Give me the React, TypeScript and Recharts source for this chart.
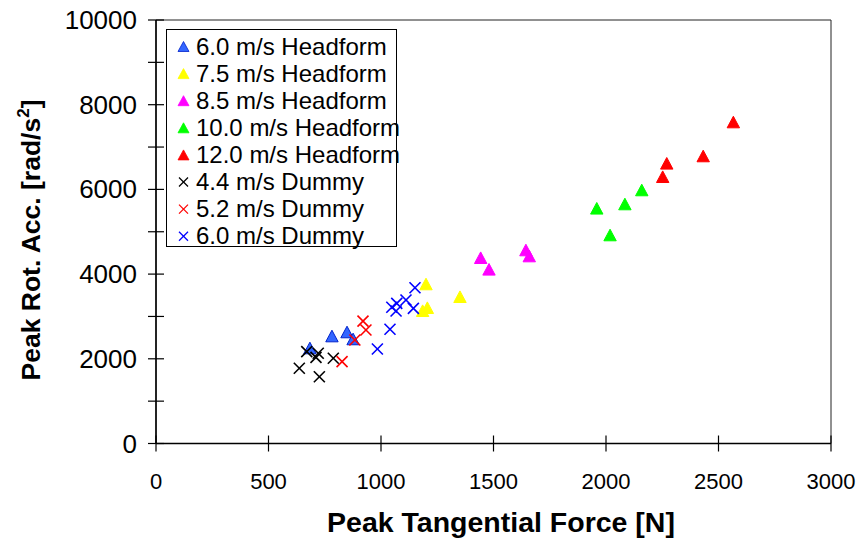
import React from "react";
import { ScatterChart, Scatter, XAxis, YAxis, Legend, ReferenceArea } from "recharts";

const xTicks = [0, 500, 1000, 1500, 2000, 2500, 3000];
const yTicks = [0, 1000, 2000, 3000, 4000, 5000, 6000, 7000, 8000, 9000, 10000];
const yLabelTicks = [0, 2000, 4000, 6000, 8000, 10000];

const headform60 = [
  { x: 684, y: 2255 },
  { x: 782, y: 2538 },
  { x: 849, y: 2633 },
  { x: 876, y: 2468 },
];
const headform75 = [
  { x: 1200, y: 3766 },
  { x: 1351, y: 3466 },
  { x: 1185, y: 3136 },
  { x: 1206, y: 3207 },
];
const headform85 = [
  { x: 1443, y: 4387 },
  { x: 1480, y: 4113 },
  { x: 1644, y: 4569 },
  { x: 1659, y: 4427 },
];
const headform100 = [
  { x: 1959, y: 5554 },
  { x: 2018, y: 4923 },
  { x: 2084, y: 5655 },
  { x: 2159, y: 5986 },
];
const headform120 = [
  { x: 2252, y: 6300 },
  { x: 2270, y: 6616 },
  { x: 2432, y: 6789 },
  { x: 2566, y: 7591 },
];
const dummy44 = [
  { x: 670, y: 2168 },
  { x: 721, y: 2130 },
  { x: 711, y: 2035 },
  { x: 788, y: 2012 },
  { x: 637, y: 1776 },
  { x: 726, y: 1577 },
];
const dummy52 = [
  { x: 920, y: 2890 },
  { x: 933, y: 2680 },
  { x: 884, y: 2444 },
  { x: 827, y: 1932 },
];
const dummy60 = [
  { x: 1151, y: 3679 },
  { x: 1111, y: 3388 },
  { x: 1070, y: 3310 },
  { x: 1048, y: 3216 },
  { x: 1067, y: 3129 },
  { x: 1144, y: 3192 },
  { x: 1040, y: 2697 },
  { x: 984, y: 2231 },
];

const series = [
  { name: "6.0 m/s Headform", data: headform60, kind: "tri", color: "#3366ff", edge: "#0022cc" },
  { name: "7.5 m/s Headform", data: headform75, kind: "tri", color: "#ffff00", edge: "#ffff00" },
  { name: "8.5 m/s Headform", data: headform85, kind: "tri", color: "#ff00ff", edge: "#ff00ff" },
  { name: "10.0 m/s Headform", data: headform100, kind: "tri", color: "#00ff00", edge: "#00ff00" },
  { name: "12.0 m/s Headform", data: headform120, kind: "tri", color: "#ff0000", edge: "#ff0000" },
  { name: "4.4 m/s Dummy", data: dummy44, kind: "cross", color: "#000000", edge: "#000000" },
  { name: "5.2 m/s Dummy", data: dummy52, kind: "cross", color: "#ff0000", edge: "#ff0000" },
  { name: "6.0 m/s Dummy", data: dummy60, kind: "cross", color: "#0000ff", edge: "#0000ff" },
];

const FONT = "'Liberation Sans', Arial, sans-serif";

function makeShape(kind: string, color: string, edge: string) {
  return (props: any) => {
    const { cx, cy } = props;
    if (cx == null || cy == null) return <g />;
    if (kind === "tri") {
      const w = 6.2, h = 5.8;
      return (
        <path
          d={`M${cx},${cy - h} L${cx + w},${cy + h} L${cx - w},${cy + h} Z`}
          fill={color}
          stroke={edge}
          strokeWidth={1}
        />
      );
    }
    const s = 5.5;
    return (
      <g stroke={color} strokeWidth={1.6}>
        <line x1={cx - s} y1={cy - s} x2={cx + s} y2={cy + s} />
        <line x1={cx - s} y1={cy + s} x2={cx + s} y2={cy - s} />
      </g>
    );
  };
}

const XTick = (props: any) => {
  const { x, y, payload } = props;
  return (
    <g>
      <line x1={x} x2={x} y1={y - 8} y2={y + 8} stroke="#000" strokeWidth={1.2} />
      <text x={x} y={y + 45} textAnchor="middle" fontSize={22} fontFamily={FONT} fill="#000">
        {payload.value}
      </text>
    </g>
  );
};

const YTick = (props: any) => {
  const { x, y, payload } = props;
  const show = yLabelTicks.includes(payload.value);
  return (
    <g>
      <line x1={x - 8} x2={x + 8} y1={y} y2={y} stroke="#000" strokeWidth={1.2} />
      {show && (
        <text x={x - 19} y={y + 9} textAnchor="end" fontSize={26} fontFamily={FONT} fill="#000">
          {payload.value}
        </text>
      )}
    </g>
  );
};

const YTitle = (props: any) => {
  const vb = props.viewBox || { x: 0, y: 20, width: 156, height: 423 };
  const x = vb.x + 40;
  const y = 240;
  return (
    <text
      x={x}
      y={y}
      transform={`rotate(-90 ${x} ${y})`}
      textAnchor="middle"
      fontSize={26.5}
      fontWeight="bold"
      fontFamily={FONT}
      fill="#000"
    >
      <tspan>Peak Rot. Acc. [rad/s</tspan>
      <tspan fontSize={17} dy={-11}>2</tspan>
      <tspan dy={11}>]</tspan>
    </text>
  );
};

const XTitle = (props: any) => {
  const vb = props.viewBox || { x: 156, y: 443, width: 675, height: 98 };
  const x = 501;
  const y = vb.y + 88;
  return (
    <text x={x} y={y} textAnchor="middle" fontSize={28.5} fontWeight="bold" fontFamily={FONT} fill="#000">
      Peak Tangential Force [N]
    </text>
  );
};

const LegendBox = () => (
  <div
    style={{
      width: 229,
      height: 216,
      border: "1px solid #000",
      background: "#fff",
      fontFamily: FONT,
      color: "#000",
      boxSizing: "content-box",
    }}
  >
    <svg width={229} height={216} style={{ display: "block", overflow: "visible" }}>
      {series.map((s, i) => {
        const cy = 16.5 + i * 27.1;
        const cx = 16.5;
        return (
          <g key={s.name}>
            {s.kind === "tri" ? (
              <path
                d={`M${cx},${cy - 5} L${cx + 5.5},${cy + 5} L${cx - 5.5},${cy + 5} Z`}
                fill={s.color}
                stroke={s.edge}
                strokeWidth={0.8}
              />
            ) : (
              <g stroke={s.color} strokeWidth={1.3}>
                <line x1={cx - 4.5} y1={cy - 4.5} x2={cx + 4.5} y2={cy + 4.5} />
                <line x1={cx - 4.5} y1={cy + 4.5} x2={cx + 4.5} y2={cy - 4.5} />
              </g>
            )}
            <text x={29} y={cy + 8} fontSize={24} fontFamily={FONT} fill="#000">
              {s.name}
            </text>
          </g>
        );
      })}
    </svg>
  </div>
);

export default function App() {
  return (
    <div style={{ position: "absolute", left: 0, top: 0, width: 863, height: 542, background: "#fff" }}>
      <ScatterChart width={863} height={542} margin={{ top: 20, right: 32, bottom: 0, left: 0 }}>
        <XAxis
          type="number"
          dataKey="x"
          domain={[0, 3000]}
          ticks={xTicks}
          interval={0}
          height={98.5}
          tickLine={false}
          tickSize={0}
          tickMargin={0}
          axisLine={{ stroke: "#000", strokeWidth: 1.5 }}
          tick={<XTick />}
          label={<XTitle />}
          allowDataOverflow
        />
        <YAxis
          type="number"
          dataKey="y"
          domain={[0, 10000]}
          ticks={yTicks}
          interval={0}
          width={156}
          tickLine={false}
          tickSize={0}
          tickMargin={0}
          axisLine={{ stroke: "#000", strokeWidth: 1.5 }}
          tick={<YTick />}
          label={<YTitle />}
          allowDataOverflow
        />
        <ReferenceArea x1={0} x2={3000} y1={0} y2={10000} fill="none" stroke="#222" strokeWidth={1} />
        {series.map((s) => (
          <Scatter
            key={s.name}
            name={s.name}
            data={s.data}
            isAnimationActive={false}
            shape={makeShape(s.kind, s.color, s.edge)}
          />
        ))}
        <Legend
          layout="vertical"
          align="center"
          verticalAlign="middle"
          wrapperStyle={{ left: 166, top: 29, width: 231, height: 218 }}
          content={() => <LegendBox />}
        />
      </ScatterChart>
    </div>
  );
}
